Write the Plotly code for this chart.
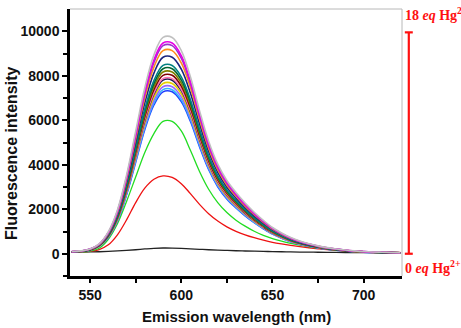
import plotly.graph_objects as go

# Emission wavelength grid (nm)
wavelength = [540, 545, 550, 555, 560, 565, 570, 575, 580, 585, 590, 595, 600,
              605, 610, 615, 620, 625, 630, 635, 640, 645, 650, 655, 660, 665,
              670, 675, 680, 685, 690, 695, 700, 705, 710, 715, 720]

# 0 eq Hg2+ (black)
free_probe = [75, 78, 82, 90, 105, 125, 150, 180, 215, 245, 258, 255, 240,
              220, 200, 180, 162, 148, 135, 124, 114, 105, 97, 90, 83, 77,
              72, 68, 64, 60, 57, 54, 52, 50, 48, 47, 46]

# first additions (red, green)
red_curve = [70, 80, 110, 190, 400, 850, 1520, 2300, 2950, 3350, 3500, 3430, 3150,
             2700, 2220, 1800, 1470, 1210, 1010, 850, 720, 610, 515, 440, 375, 320,
             270, 225, 185, 155, 130, 110, 92, 80, 70, 64, 58]
green_curve = [70, 85, 120, 250, 650, 1350, 2350, 3450, 4550, 5400, 5950, 5950, 5520,
               4650, 3700, 2900, 2300, 1850, 1510, 1240, 1010, 830, 685, 565, 465, 385,
               315, 255, 205, 165, 133, 108, 90, 76, 65, 56, 50]

# normalized band shape of the saturated spectra
band_shape = [0.010, 0.013, 0.022, 0.045, 0.10, 0.20, 0.36, 0.56, 0.76, 0.91, 0.99, 0.99, 0.93,
              0.81, 0.655, 0.515, 0.41, 0.335, 0.28, 0.232, 0.19, 0.153, 0.12, 0.095, 0.074, 0.058,
              0.046, 0.036, 0.028, 0.022, 0.017, 0.013, 0.010, 0.008, 0.007, 0.006, 0.005]

# peak intensities of the later additions
bundle_peaks = [7350, 7450, 7580, 7730, 7880, 7950, 8100, 8250, 8400, 8550,
                8920, 9220, 9450, 9570, 9820]
bundle_colors = ["#1f3fff", "#33b5ff", "#9966ff", "#e6d000", "#1a1a4d", "#ff6fb0",
                 "#800000", "#808000", "#006633", "#008080", "#1a237e", "#ff8c1a",
                 "#9933cc", "#e600e6", "#c0c0c0"]

fig = go.Figure()

def add(y, color, w=1.3):
    fig.add_trace(go.Scatter(x=wavelength, y=y, mode="lines",
                             line=dict(color=color, width=w, shape="spline", smoothing=1.0),
                             showlegend=False, hoverinfo="skip"))

add(free_probe, "#222222")
add(red_curve, "#ee1111")
add(green_curve, "#22dd22")
for pk, col in zip(bundle_peaks, bundle_colors):
    add([pk * s for s in band_shape], col, 1.6)

axis_font = dict(family="Liberation Sans, Arial", size=14, color="#111111")

fig.update_xaxes(range=[539, 721], tickvals=[550, 600, 650, 700],
                 ticktext=["<b>550</b>", "<b>600</b>", "<b>650</b>", "<b>700</b>"],
                 ticks="outside", ticklen=4, tickwidth=2, tickcolor="black",
                 minor=dict(tickvals=[575, 625, 675], ticks="outside", ticklen=4,
                            tickwidth=2, tickcolor="black"),
                 showline=True, linewidth=2.5, linecolor="black", showgrid=False,
                 zeroline=False, tickfont=axis_font)
yt = [0, 2000, 4000, 6000, 8000, 10000]
fig.update_yaxes(range=[-1000, 11000], tickvals=yt,
                 ticktext=["<b>%d</b>" % v for v in yt],
                 ticks="outside", ticklen=5, tickwidth=2, tickcolor="black",
                 minor=dict(tickvals=[-1000, 1000, 3000, 5000, 7000, 9000], ticks="outside",
                            ticklen=4, tickwidth=2, tickcolor="black"),
                 showline=True, linewidth=2.5, linecolor="black", showgrid=False,
                 zeroline=False, tickfont=axis_font)

title_font = dict(family="Liberation Sans, Arial", color="#111111")
fig.add_annotation(xref="paper", yref="paper", x=0.5, y=-0.15, xanchor="center",
                   yanchor="middle", showarrow=False,
                   text="<b>Emission wavelength (nm)</b>", font=dict(size=15, **title_font))
fig.add_annotation(xref="paper", yref="paper", x=-0.1747, y=0.4607, xanchor="center",
                   yanchor="middle", showarrow=False, textangle=-90,
                   text="<b>Fluorescence intensity</b>", font=dict(size=16, **title_font))

# top and right frame (thin gray)
fig.add_shape(type="line", xref="paper", yref="paper", x0=0, x1=1, y0=1, y1=1,
              line=dict(color="#b8b8b8", width=1))
fig.add_shape(type="line", xref="paper", yref="paper", x0=1, x1=1, y0=0, y1=1,
              line=dict(color="#b8b8b8", width=1))

# red titration bracket
red = "#ff1010"
bx = 1.0205
fig.add_shape(type="line", xref="paper", yref="y", x0=bx, x1=bx, y0=0, y1=9950,
              line=dict(color=red, width=2.2))
for yy in (0, 9950):
    fig.add_shape(type="line", xref="paper", yref="y", x0=bx - 0.012, x1=bx + 0.012,
                  y0=yy, y1=yy, line=dict(color=red, width=2.2))

ann_font = dict(family="Liberation Serif, Times New Roman", size=14, color=red)
fig.add_annotation(xref="paper", yref="y", x=1.003, y=10760, xanchor="left", yanchor="middle",
                   text="<b>18 <i>eq</i> Hg<sup>2+</sup></b>", showarrow=False, font=ann_font)
fig.add_annotation(xref="paper", yref="y", x=1.003, y=-600, xanchor="left", yanchor="middle",
                   text="<b>0 <i>eq</i> Hg<sup>2+</sup></b>", showarrow=False, font=ann_font)

fig.update_layout(width=461, height=328, margin=dict(l=70, r=59, t=9, b=52),
                  paper_bgcolor="white", plot_bgcolor="white")

fig.write_html("out.html")
